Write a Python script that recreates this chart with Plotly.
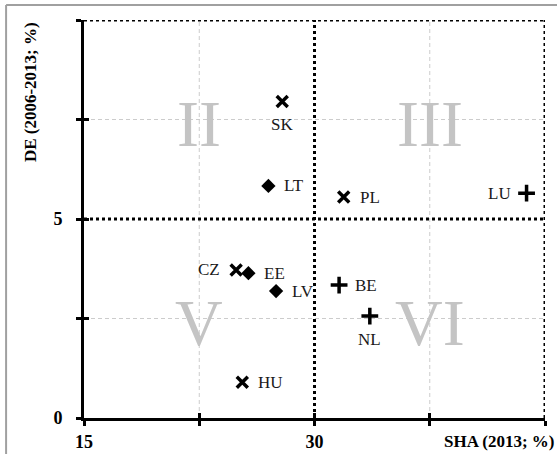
import plotly.graph_objects as go

# Countries: SHA (2013; %) on x, DE (2006-2013; %) on y
cross_names = ["SK", "PL", "CZ", "HU"]
cross_sha = [27.9, 31.9, 24.9, 25.3]
cross_de = [7.95, 5.55, 3.72, 0.9]
cross_pos = ["below", "right", "left", "right"]

diamond_names = ["LT", "EE", "LV"]
diamond_sha = [27.0, 25.7, 27.5]
diamond_de = [5.83, 3.64, 3.19]
diamond_pos = ["right", "right", "right"]

plus_names = ["LU", "BE", "NL"]
plus_sha = [43.8, 31.6, 33.6]
plus_de = [5.65, 3.34, 2.56]
plus_pos = ["left", "right", "below"]

# Quadrant numerals and their anchor points
quad_labels = ["II", "III", "V", "VI"]
quad_x = [22.5, 37.5, 22.5, 37.5]
quad_y = [7.5, 7.5, 2.5, 2.5]

x_ticks = [15, 22.5, 30, 37.5, 45]
x_ticktext = ["15", "", "30", "", ""]
y_ticks = [0, 2.5, 5, 7.5, 10]
y_ticktext = ["0", "", "5", "", ""]

X_MIN, X_MAX, X_MID = 15, 45, 30
Y_MIN, Y_MAX, Y_MID = 0, 10, 5

SERIF = "Liberation Serif"

# label placement relative to its marker: anchors and pixel offsets
PLACE = {
    "right": dict(xanchor="left", yanchor="middle", xshift=14, yshift=0),
    "left": dict(xanchor="right", yanchor="middle", xshift=-14, yshift=0),
    "below": dict(xanchor="center", yanchor="middle", xshift=0, yshift=-23),
}

fig = go.Figure()

# Light dashed gridlines
grid = dict(color="#cccccc", width=1, dash="4px,3px")
for gx in [22.5, 37.5]:
    fig.add_shape(type="line", x0=gx, x1=gx, y0=Y_MIN, y1=Y_MAX, xref="x", yref="y",
                  line=grid, layer="below")
for gy in [2.5, 7.5]:
    fig.add_shape(type="line", x0=X_MIN, x1=X_MAX, y0=gy, y1=gy, xref="x", yref="y",
                  line=grid, layer="below")

# Quadrant numerals
for lab, qx, qy in zip(quad_labels, quad_x, quad_y):
    fig.add_annotation(x=qx, y=qy, xref="x", yref="y", text=lab, showarrow=False,
                       xanchor="center", yanchor="middle", yshift=-4,
                       font=dict(family=SERIF, size=66, color="#c4c4c4"))

# Dotted quadrant dividers and top/right borders
dot = dict(color="black", width=3, dash="dot")
fig.add_shape(type="line", x0=X_MID, x1=X_MID, y0=Y_MIN, y1=Y_MAX, xref="x", yref="y", line=dot)
fig.add_shape(type="line", x0=X_MIN, x1=X_MAX, y0=Y_MID, y1=Y_MID, xref="x", yref="y", line=dot)
fig.add_shape(type="line", x0=X_MIN, x1=X_MAX, y0=Y_MAX, y1=Y_MAX, xref="x", yref="y", line=dot)
fig.add_shape(type="line", x0=X_MAX, x1=X_MAX, y0=Y_MIN, y1=Y_MAX, xref="x", yref="y", line=dot)

# Thin grey frame around the figure
fig.add_shape(type="line", xref="paper", yref="paper", x0=-0.169, x1=1.03, y0=1.038, y1=1.038,
              line=dict(color="#a0a0a0", width=2))
fig.add_shape(type="line", xref="paper", yref="paper", x0=-0.169, x1=-0.169, y0=1.038, y1=-0.1,
              line=dict(color="#a0a0a0", width=2))

label_font = dict(family=SERIF, size=17, color="#1a1a1a")

fig.add_trace(go.Scatter(
    x=cross_sha, y=cross_de, mode="markers",
    marker=dict(symbol="x-thin", size=11, color="black", line=dict(width=3.5, color="black")),
    showlegend=False,
))
fig.add_trace(go.Scatter(
    x=diamond_sha, y=diamond_de, mode="markers",
    marker=dict(symbol="diamond", size=11, color="black"),
    showlegend=False,
))
fig.add_trace(go.Scatter(
    x=plus_sha, y=plus_de, mode="markers",
    marker=dict(symbol="cross-thin", size=12, color="black", line=dict(width=3.5, color="black")),
    showlegend=False,
))

# Country labels next to their markers
for names, xs, ys, poss in [(cross_names, cross_sha, cross_de, cross_pos),
                            (diamond_names, diamond_sha, diamond_de, diamond_pos),
                            (plus_names, plus_sha, plus_de, plus_pos)]:
    for n, xv, yv, p in zip(names, xs, ys, poss):
        fig.add_annotation(x=xv, y=yv, xref="x", yref="y", text=n, showarrow=False,
                           font=label_font, **PLACE[p])

tickfont = dict(family=SERIF, size=18, color="black")

fig.update_layout(
    width=557, height=454,
    margin=dict(l=84, r=12, t=20, b=36, autoexpand=False),
    paper_bgcolor="white", plot_bgcolor="white",
    xaxis=dict(range=[X_MIN, X_MAX], tickvals=x_ticks, automargin=False,
               ticktext=["<b>%s</b>" % t if t else "" for t in x_ticktext],
               showgrid=False, zeroline=False, showline=True, linecolor="black", linewidth=3,
               ticks="outside", ticklen=5, tickwidth=3, tickcolor="black", tickfont=tickfont),
    yaxis=dict(range=[Y_MIN, Y_MAX], tickvals=y_ticks, automargin=False,
               ticktext=["<b>%s</b>" % t if t else "" for t in y_ticktext],
               showgrid=False, zeroline=False, showline=True, linecolor="black", linewidth=3,
               ticks="outside", ticklen=5, tickwidth=3, tickcolor="black", tickfont=tickfont,
               ticklabelstandoff=10),
    # Overlay axes give the tick marks their inner half so they cross the axis lines
    xaxis2=dict(range=[X_MIN, X_MAX], tickvals=x_ticks, overlaying="x", side="bottom",
                showticklabels=False, showgrid=False, zeroline=False, automargin=False,
                ticks="inside", ticklen=5, tickwidth=3, tickcolor="black"),
    yaxis2=dict(range=[Y_MIN, Y_MAX], tickvals=y_ticks, overlaying="y", side="left",
                showticklabels=False, showgrid=False, zeroline=False, automargin=False,
                ticks="inside", ticklen=5, tickwidth=3, tickcolor="black"),
)

fig.add_annotation(text="<b>DE (2006-2013; %)</b>", textangle=-90, xref="paper", yref="paper",
                   x=-0.117, y=1.0, xanchor="center", yanchor="top", showarrow=False,
                   font=dict(family=SERIF, size=17, color="black"))
fig.add_annotation(text="<b>SHA (2013; %)</b>", xref="paper", yref="paper",
                   x=1.026, y=-0.03, xanchor="right", yanchor="top", showarrow=False,
                   font=dict(family=SERIF, size=17, color="black"))

# Invisible trace binding the overlay axes so their ticks are drawn
fig.add_trace(go.Scatter(x=[X_MIN], y=[Y_MIN], xaxis="x2", yaxis="y2", mode="markers",
                         marker=dict(opacity=0), hoverinfo="skip", showlegend=False))

fig.write_html("out.html")
